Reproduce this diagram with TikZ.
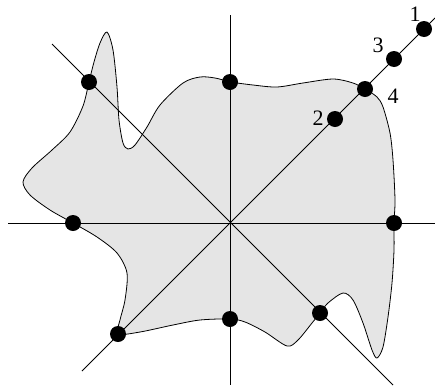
\documentclass[tikz,border=0pt]{standalone}
\usepackage{fontspec}
\setmainfont{Liberation Serif}
\definecolor{blobfill}{RGB}{229,229,229}
\tikzset{
  dotnode/.style={circle, fill=black, inner sep=0pt, minimum size=16pt},
  axisline/.style={line width=0.8pt, black},
  blobline/.style={line width=0.8pt, black, fill=blobfill},
  numlabel/.style={inner sep=0pt, font=\fontsize{22}{24}\selectfont}
}
\begin{document}
\begin{tikzpicture}[x=1pt, y=-1pt]
\useasboundingbox (0,0) rectangle (435,386);
% blob
\draw[blobline] plot[smooth cycle, tension=0.5] coordinates {
 (89,82) (94,62) (100,43) (107,32) (113,50) (117,87) (119,120) (123,143) (128,149)
 (135,145) (147,127) (160,105) (183,83) (200,77) (215,78) (231,82) (253,85) (277,87)
 (303,83) (333,79) (353,83) (365,89) (377,97) (383,107) (390,133) (393,160) (395,200)
 (394,223) (394,250) (392,283) (388,317) (383,347) (377,358) (372,350) (363,323)
 (353,300) (343,293) (328,303) (320,313) (312,323) (298,340) (287,346) (265,332)
 (245,322) (230,319) (200,320) (173,325) (140,332) (118,334) (120,320) (125,300)
 (127,273) (117,253) (97,237) (73,223) (50,210) (30,195) (23,182) (32,168)
 (52,150) (70,132) (83,106)};
% line end points
\coordinate (hL) at (8,223);
\coordinate (hR) at (435,223);
\coordinate (vT) at (230,15);
\coordinate (vB) at (230,385);
\coordinate (dA) at (52,44);
\coordinate (dB) at (393,385);
\coordinate (eA) at (82,371);
\coordinate (eB) at (435,18);
\draw[axisline] (hL) -- (hR);
\draw[axisline] (vT) -- (vB);
\draw[axisline] (dA) -- (dB);
\draw[axisline] (eA) -- (eB);
% dots
\node[dotnode] (nw) at (89,82) {};
\node[dotnode] (n) at (230,82) {};
\node[dotnode] (p4) at (365,89) {};
\node[dotnode] (p3) at (394,59) {};
\node[dotnode] (p1) at (424,29) {};
\node[dotnode] (p2) at (335,119) {};
\node[dotnode] (w) at (73,223) {};
\node[dotnode] (e) at (394,223) {};
\node[dotnode] (sw) at (118,334) {};
\node[dotnode] (s) at (230,319) {};
\node[dotnode] (se) at (320,313) {};
% labels
\node[numlabel] (l1) at (415,14) {1};
\node[numlabel] (l3) at (378,45) {3};
\node[numlabel] (l4) at (393,96) {4};
\node[numlabel] (l2) at (318,118) {2};
\end{tikzpicture}
\end{document}
